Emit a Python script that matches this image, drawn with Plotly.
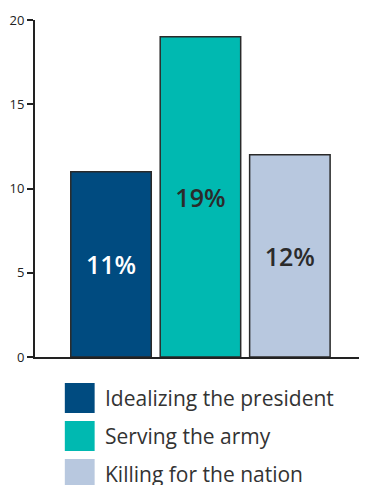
import plotly.graph_objects as go

categories = ["Idealizing the president", "Serving the army", "Killing for the nation"]
values = [11, 19, 12]
labels = ["11%", "19%", "12%"]
colors = ["#004b80", "#00b9b1", "#b8c8df"]
text_colors = ["#ffffff", "#2b2b2b", "#2b2b2b"]
y_ticks = [0, 5, 10, 15, 20]

OFF = 8  # page body margin
W, H = 367 - OFF, 485 - OFF
ml, mr, mt, mb = 33 - OFF, 2, 20 - OFF, 128
pw, ph = W - ml - mr, H - mt - mb

def px_x(x):  # window pixel -> paper x
    return (x - OFF - ml) / pw

def px_y(y):  # window pixel -> paper y
    return (H - mb - (y - OFF)) / ph

fig = go.Figure()
fig.add_trace(go.Bar(
    x=list(range(len(categories))), y=values, width=0.9,
    marker=dict(color=colors, line=dict(color="#2a2a2a", width=1.5)),
    text=labels, textposition="inside", insidetextanchor="middle",
    textfont=dict(family="Open Sans", size=25, color=text_colors, weight=600),
    showlegend=False, hoverinfo="skip",
))

shapes = []
annotations = []
for i, (cat, col) in enumerate(zip(categories, colors)):
    cy = 398 + 38 * i
    shapes.append(dict(type="rect", xref="paper", yref="paper",
                       x0=px_x(63), x1=px_x(93),
                       y0=px_y(cy + 15), y1=px_y(cy - 15),
                       fillcolor=col, line=dict(width=0)))
    annotations.append(dict(xref="paper", yref="paper",
                            x=px_x(101), y=px_y(cy),
                            xanchor="left", yanchor="middle", showarrow=False,
                            text=cat, font=dict(family="Open Sans", size=21, color="#333333")))

fig.update_layout(
    width=W, height=H, margin=dict(l=ml, r=mr, t=mt, b=mb),
    plot_bgcolor="white", paper_bgcolor="white",
    xaxis=dict(range=[-0.85, 2.84], showticklabels=False, ticks="", showgrid=False,
               zeroline=False, showline=True, linecolor="#222222", linewidth=2),
    yaxis=dict(range=[0, 20], tickvals=y_ticks, ticks="outside", ticklen=6, tickwidth=2,
               tickcolor="#222222", showgrid=False, zeroline=False, showline=True,
               linecolor="#222222", linewidth=2,
               tickfont=dict(family="Open Sans", size=13, color="#222222")),
    shapes=shapes, annotations=annotations, bargap=0.1,
)

fig.write_html("out.html")
